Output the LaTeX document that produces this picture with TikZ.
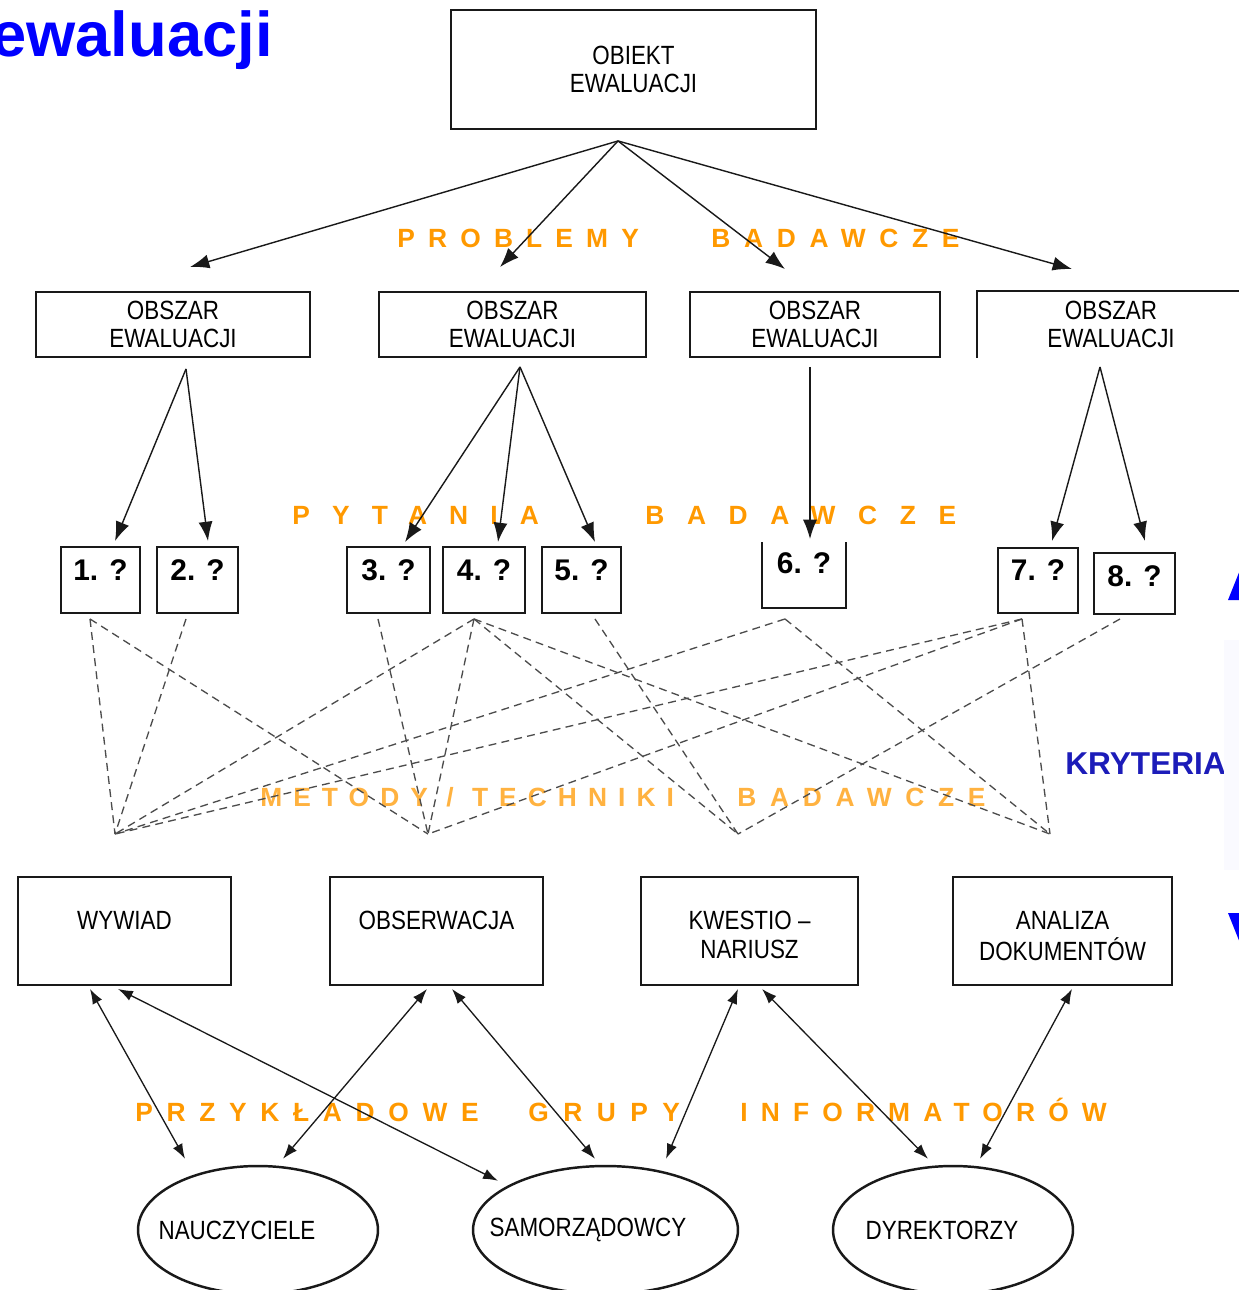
\documentclass[tikz,border=0pt]{standalone}
\usepackage{fontspec}
\setmainfont{Liberation Sans}
\newfontfamily\narrowf[FakeStretch=0.85]{Liberation Sans}
\usetikzlibrary{shapes.geometric,arrows.meta,calc}
\definecolor{orangec}{RGB}{255,153,0}
\definecolor{krytc}{RGB}{28,28,185}
\definecolor{titlec}{RGB}{0,0,255}
\definecolor{linec}{RGB}{25,25,25}
\begin{document}
\begin{tikzpicture}[x=0.02cm,y=-0.02cm,
  bx/.style={draw=linec, line width=1.1pt, inner sep=0pt, align=center,
    font=\narrowf\fontsize{15}{16}\selectfont},
  boxline/.style={draw=linec, line width=1.1pt},
  qb/.style={draw=linec, line width=1.1pt, inner xsep=0pt, inner ysep=0pt,
    font=\bfseries\fontsize{17}{20}\selectfont},
  mb/.style={draw=linec, line width=1.1pt, inner sep=0pt,
    text height=1.04cm, text depth=1.12cm,
    font=\narrowf\fontsize{15}{17}\selectfont},
  ell/.style={ellipse, draw=linec, line width=1.4pt, inner sep=0pt,
    minimum height=2.56cm, font=\narrowf\fontsize{15}{17}\selectfont},
  arr/.style={draw=linec, line width=0.8pt, -{Latex[length=11pt,width=8pt]}},
  darr/.style={draw=linec, line width=0.75pt,
    {Latex[length=8.5pt,width=6pt]}-{Latex[length=8.5pt,width=6pt]}},
  dsh/.style={draw=black!70, line width=0.75pt, dash pattern=on 4.5pt off 3pt},
  org/.style={text=orangec, inner sep=0pt, anchor=base west,
    font=\bfseries\fontsize{15}{18}\selectfont}
]
\fill[white] (0,0) rectangle (1238,1290);
\useasboundingbox (0,0) rectangle (1238,1290);

% title
\node[anchor=base east, inner sep=0pt, text=titlec,
  font=\bfseries\fontsize{36}{40}\selectfont] (title) at (273,57) {ewaluacji};

% top box and areas
\node[bx, minimum width=7.3cm, minimum height=2.38cm] (obiekt) at (633.5,69.5) {OBIEKT\\EWALUACJI};
\node[bx, minimum width=5.48cm, minimum height=1.3cm] (o1) at (173,324.5) {OBSZAR\\EWALUACJI};
\node[bx, minimum width=5.34cm, minimum height=1.3cm] (o2) at (512.5,324.5) {OBSZAR\\EWALUACJI};
\node[bx, minimum width=5cm, minimum height=1.3cm] (o3) at (815,324.5) {OBSZAR\\EWALUACJI};
\node[bx, draw=none, minimum width=5.32cm, minimum height=1.3cm] (o4) at (1111,324.5) {OBSZAR\\EWALUACJI};
\draw[boxline] (o4.south west) -- (o4.north west) -- (o4.north east);

% questions
\node[qb, minimum width=1.58cm, text height=0.66cm, text depth=0.66cm] (q1) at (100.5,580) {1. ?};
\node[qb, minimum width=1.62cm, text height=0.66cm, text depth=0.66cm] (q2) at (197.5,580) {2. ?};
\node[qb, minimum width=1.66cm, text height=0.66cm, text depth=0.66cm] (q3) at (388.5,580) {3. ?};
\node[qb, minimum width=1.64cm, text height=0.66cm, text depth=0.66cm] (q4) at (484,580) {4. ?};
\node[qb, minimum width=1.58cm, text height=0.66cm, text depth=0.66cm] (q5) at (581.5,580) {5. ?};
\node[qb, draw=none, minimum width=1.64cm, text height=0.6cm, text depth=0.68cm] (q6) at (804,575) {6. ?};
\draw[boxline] (q6.north west) -- (q6.south west) -- (q6.south east) -- (q6.north east);
\node[qb, minimum width=1.6cm, text height=0.64cm, text depth=0.66cm] (q7) at (1038,580.5) {7. ?};
\node[qb, minimum width=1.62cm, text height=0.66cm, text depth=0.56cm] (q8) at (1134.5,583.5) {8. ?};

% methods
\node[mb, minimum width=4.26cm] (wywiad) at (124.5,931) {\begin{tabular}[t]{@{}c@{}}WYWIAD\end{tabular}};
\node[mb, minimum width=4.26cm] (obs) at (436.5,931) {\begin{tabular}[t]{@{}c@{}}OBSERWACJA\end{tabular}};
\node[mb, minimum width=4.34cm] (kw) at (749.5,931) {\begin{tabular}[t]{@{}c@{}}KWESTIO –\\NARIUSZ\end{tabular}};
\node[mb, minimum width=4.38cm] (an) at (1062.5,931) {\begin{tabular}[t]{@{}c@{}}ANALIZA\\DOKUMENTÓW\end{tabular}};

% informants
\node[ell, minimum width=4.8cm] (naucz) at (258,1230) {\hspace*{-0.84cm}NAUCZYCIELE};
\node[ell, minimum width=5.3cm] (samo) at (605.5,1230) {\hspace*{-0.7cm}SAMORZĄDOWCY};
\node[ell, minimum width=4.8cm] (dyr) at (953,1230) {\hspace*{-0.44cm}DYREKTORZY};

% orange labels
\node[org] (l1a) at (397,247.5) {\addfontfeature{LetterSpace=50}PROBLEMY};
\node[org] (l1b) at (711,247.5) {\addfontfeature{LetterSpace=52}BADAWCZE};
\node[org] (l2a) at (292,524) {\addfontfeature{LetterSpace=84}PYTANIA};
\node[org] (l2b) at (645,524) {\addfontfeature{LetterSpace=86}BADAWCZE};
\node[org, text opacity=0.75] (l3a) at (260,806) {\addfontfeature{LetterSpace=42}METODY / TECHNIKI};
\node[org, text opacity=0.75] (l3b) at (737,806) {\addfontfeature{LetterSpace=52}BADAWCZE};
\node[org] (l4a) at (135,1121) {\addfontfeature{LetterSpace=52}PRZYKŁADOWE};
\node[org] (l4b) at (528,1121) {\addfontfeature{LetterSpace=55}GRUPY};
\node[org] (l4c) at (740,1121) {\addfontfeature{LetterSpace=50}INFORMATORÓW};

% criteria
\node[anchor=base west, inner sep=0pt, text=krytc,
  font=\bfseries\fontsize{18}{20}\selectfont] (kryt) at (1065,774) {KRYTERIA};
\fill[blue!2] (1224,640) rectangle (1272,870);
\fill[titlec] (1250,545) -- (1272,600) -- (1228,600) -- cycle;
\fill[titlec] (1228,913) -- (1272,913) -- (1250,968) -- cycle;

% top-level arrows
\coordinate (t0) at ($(obiekt.south)+(-15.5,11)$);
\draw[arr] (t0) -- ($(o1.north)+(17,-24)$);
\draw[arr] (t0) -- ($(o2.north)+(-12.5,-24)$);
\draw[arr] (t0) -- ($(o3.north)+(-30,-22)$);
\draw[arr] (t0) -- ($(o4.north)+(-39,-22)$);

% area -> questions
\coordinate (s1) at ($(o1.south)+(13,11)$);
\coordinate (s2) at ($(o2.south)+(7.5,9)$);
\coordinate (s3) at ($(o3.south)+(-5,9)$);
\coordinate (s4) at ($(o4.south)+(-11,9)$);
\draw[arr] (s1) -- ($(q1.north)+(14.5,-5)$);
\draw[arr] (s1) -- ($(q2.north)+(10.5,-5)$);
\draw[arr] (s2) -- ($(q3.north)+(16.5,-4)$);
\draw[arr] (s2) -- ($(q4.north)+(14,-4)$);
\draw[arr] (s2) -- ($(q5.north)+(13.5,-4)$);
\draw[arr] (s3) -- ($(q6.north)+(6,-3)$);
\draw[arr] (s4) -- ($(q7.north)+(14,-6)$);
\draw[arr] (s4) -- ($(q8.north)+(10.5,-11)$);

% dashed question -> method
\coordinate (b1) at ($(q1.south)+(-10.5,5)$);
\coordinate (b2) at ($(q2.south)+(-11.5,5)$);
\coordinate (b3) at ($(q3.south)+(-10.5,5)$);
\coordinate (b4) at ($(q4.south)+(-10,5)$);
\coordinate (b5) at ($(q5.south)+(13.5,5)$);
\coordinate (b6) at ($(q6.south)+(-19,11)$);
\coordinate (b7) at ($(q7.south)+(-16,5)$);
\coordinate (b8) at ($(q8.south)+(-14.5,4)$);
\coordinate (p1) at ($(wywiad.north)+(-9.5,-42)$);
\coordinate (p2) at ($(obs.north)+(-8.5,-42)$);
\coordinate (p3) at ($(kw.north)+(-11.5,-42)$);
\coordinate (p4) at ($(an.north)+(-12.5,-42)$);
\draw[dsh] (b1) -- (p1);
\draw[dsh] (b1) -- (p2);
\draw[dsh] (b2) -- (p1);
\draw[dsh] (b3) -- (p2);
\draw[dsh] (b4) -- (p1);
\draw[dsh] (b4) -- (p2);
\draw[dsh] (b4) -- (p3);
\draw[dsh] (b4) -- (p4);
\draw[dsh] (b5) -- (p3);
\draw[dsh] (b6) -- (p1);
\draw[dsh] (b6) -- (p4);
\draw[dsh] (b7) -- (p1);
\draw[dsh] (b7) -- (p2);
\draw[dsh] (b7) -- (p4);
\draw[dsh] (b8) -- (p3);

% method <-> informants
\draw[darr] ($(wywiad.south)+(-34.5,3)$) -- ($(naucz.north)+(-73,-6)$);
\draw[darr] ($(wywiad.south)+(-6.5,3)$) -- ($(samo.north)+(-107.5,16)$);
\draw[darr] ($(obs.south)+(-9.5,3)$) -- ($(naucz.north)+(25,-6)$);
\draw[darr] ($(obs.south)+(15.5,3)$) -- ($(samo.north)+(-10.5,-6)$);
\draw[darr] ($(kw.south)+(-11.5,3)$) -- ($(samo.north)+(60.5,-6)$);
\draw[darr] ($(kw.south)+(12.5,3)$) -- ($(dyr.north)+(-25,-6)$);
\draw[darr] ($(an.south)+(9.5,3)$) -- ($(dyr.north)+(27,-6)$);
\end{tikzpicture}
\end{document}
